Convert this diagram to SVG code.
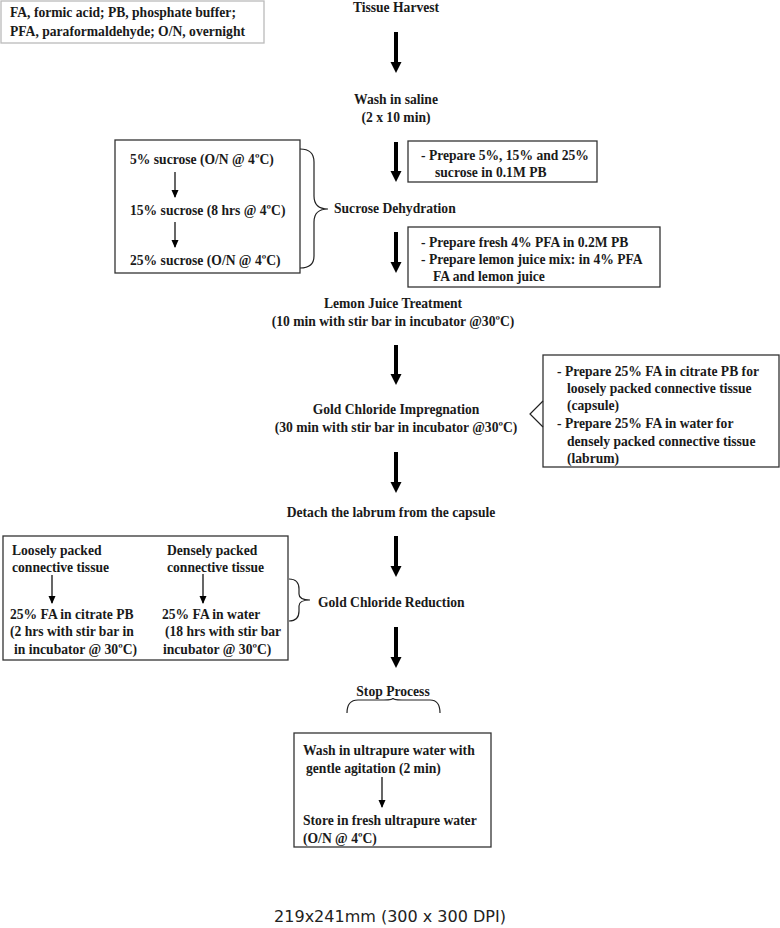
<svg xmlns="http://www.w3.org/2000/svg" width="780" height="928" viewBox="0 0 780 928">
<defs>
<marker id="thin" markerWidth="8" markerHeight="8" refX="7" refY="4" orient="auto" markerUnits="userSpaceOnUse" viewBox="0 0 8 8"><path d="M0,0.5 L8,4 L0,7.5 Z" fill="#000"/></marker>
</defs>
<style>
text{font-family:"Liberation Serif","Times New Roman",serif;font-weight:bold;font-size:13.6px;fill:#1a1a1a}
.c{text-anchor:middle}
.box{fill:#fff;stroke:#333;stroke-width:1.3}
.big{stroke:#000;stroke-width:4;fill:none}
.sm{stroke:#000;stroke-width:1.2;fill:none}
.br{stroke:#222;stroke-width:1.2;fill:none}
.cap{font-family:"DejaVu Sans",Verdana,sans-serif;font-weight:normal;font-size:16px;fill:#222}
</style>
<rect width="780" height="928" fill="#fff"/>

<g id="legend">
<rect x="1" y="1" width="263" height="42" fill="#fff" stroke="#bbb" stroke-width="1.3"/>
<text x="10" y="17">FA, formic acid;  PB, phosphate buffer;</text>
<text x="10" y="36">PFA, paraformaldehyde; O/N, overnight</text>
</g>

<g id="connectors">
<path class="big" d="M396,32 V64"/><path d="M390.5,62 L401.5,62 L396,73 Z"/>
<path class="big" d="M396,142 V173"/><path d="M390.5,171 L401.5,171 L396,182 Z"/>
<path class="big" d="M396,232 V264"/><path d="M390.5,262 L401.5,262 L396,273 Z"/>
<path class="big" d="M396,345 V376"/><path d="M390.5,374 L401.5,374 L396,385 Z"/>
<path class="big" d="M396,452 V484"/><path d="M390.5,482 L401.5,482 L396,493 Z"/>
<path class="big" d="M396,536 V568"/><path d="M390.5,566 L401.5,566 L396,577 Z"/>
<path class="big" d="M396,627 V659"/><path d="M390.5,657 L401.5,657 L396,668 Z"/>
</g>

<g id="tissue-harvest"><text class="c" x="396" y="12">Tissue Harvest</text></g>

<g id="wash-saline">
<text class="c" x="396" y="104">Wash in saline</text>
<text class="c" x="396" y="122">(2 x 10 min)</text>
</g>

<g id="prep-sucrose">
<rect class="box" x="408" y="141" width="189" height="41"/>
<text x="421" y="160">-  Prepare 5%, 15% and 25%</text>
<text x="435" y="177">sucrose in 0.1M PB</text>
</g>

<g id="sucrose-box">
<rect class="box" x="115" y="140" width="185" height="133"/>
<text x="130" y="164">5% sucrose (O/N @ 4ºC)</text>
<path class="sm" d="M175,172 V197" marker-end="url(#thin)"/>
<text x="130" y="215">15% sucrose (8 hrs @ 4ºC)</text>
<path class="sm" d="M175,222 V247" marker-end="url(#thin)"/>
<text x="130" y="265">25% sucrose (O/N @ 4ºC)</text>
<path class="br" d="M300,149 Q314,149 314,162 V196 Q314,209 328,209 Q314,209 314,222 V256 Q314,268 300,268"/>
</g>

<g id="sucrose-dehydration"><text x="334" y="213">Sucrose Dehydration</text></g>

<g id="prep-pfa">
<rect class="box" x="408" y="227" width="252" height="60"/>
<text x="421" y="247">-  Prepare fresh 4% PFA in 0.2M PB</text>
<text x="421" y="264">-  Prepare lemon juice mix: in 4% PFA</text>
<text x="433" y="281">FA and lemon juice</text>
</g>

<g id="lemon-juice">
<text class="c" x="393" y="308">Lemon Juice Treatment</text>
<text class="c" x="393" y="326">(10 min with stir bar in incubator @30ºC)</text>
</g>

<g id="prep-fa">
<rect class="box" x="543" y="355" width="236" height="112"/>
<text x="557" y="376">-  Prepare 25% FA in citrate PB for</text>
<text x="567" y="393">loosely packed connective tissue</text>
<text x="567" y="410">(capsule)</text>
<text x="557" y="428">-  Prepare 25% FA  in water for</text>
<text x="567" y="446">densely packed connective tissue</text>
<text x="567" y="463">(labrum)</text>
<path class="br" d="M543,401 L530,414 L543,427"/>
</g>

<g id="gold-impregnation">
<text class="c" x="396" y="414">Gold Chloride Impregnation</text>
<text class="c" x="396" y="432">(30 min with stir bar in incubator @30ºC)</text>
</g>

<g id="detach"><text class="c" x="391" y="517">Detach the labrum from the capsule</text></g>

<g id="reduction-box">
<rect class="box" x="3" y="536" width="285" height="124"/>
<text x="12" y="555">Loosely packed</text>
<text x="12" y="572">connective tissue</text>
<path class="sm" d="M52,575 V603" marker-end="url(#thin)"/>
<text x="10" y="619">25% FA in citrate PB</text>
<text x="10" y="636">(2 hrs with stir bar in</text>
<text x="14" y="654">in incubator @ 30ºC)</text>
<text x="167" y="555">Densely packed</text>
<text x="167" y="572">connective tissue</text>
<path class="sm" d="M203,574 V603" marker-end="url(#thin)"/>
<text x="162" y="619">25% FA  in water</text>
<text x="165" y="636">(18 hrs with stir bar</text>
<text x="163" y="654">incubator @ 30ºC)</text>
<path class="br" d="M289,579 Q299,579 299,589 V594 Q299,600 310,600 Q299,600 299,606 V611 Q299,621 289,621"/>
</g>

<g id="gold-reduction"><text x="318" y="607">Gold Chloride Reduction</text></g>

<g id="stop-process">
<text class="c" x="393" y="696">Stop Process</text>
<path class="br" d="M347,713 Q347,700 358,700 H384 Q393,700 393,698 Q393,700 402,700 H430 Q440,700 440,713"/>
</g>

<g id="final-box">
<rect class="box" x="294" y="733" width="197" height="114"/>
<text x="303" y="755">Wash in ultrapure water with</text>
<text x="306" y="773">gentle agitation (2 min)</text>
<path class="sm" d="M382,777 V807" marker-end="url(#thin)"/>
<text x="303" y="825">Store in fresh ultrapure water</text>
<text x="303" y="843">(O/N @ 4ºC)</text>
</g>

<text class="cap c" x="390" y="922">219x241mm (300 x 300 DPI)</text>
</svg>
